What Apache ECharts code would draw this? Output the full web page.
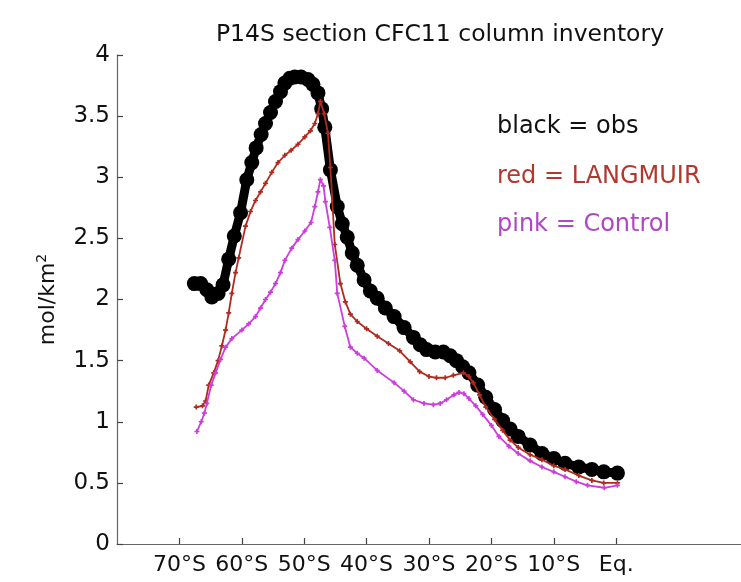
<!DOCTYPE html>
<html>
<head>
<meta charset="utf-8">
<script src="https://cdn.jsdelivr.net/npm/echarts@6/dist/echarts.min.js"></script>
<style>html,body{margin:0;padding:0;background:#fff;}#c{width:741px;height:582px;}</style>
</head>
<body>
<div id="c"></div>
<script>
const titleText = 'P14S section CFC11 column inventory';
const xTickValues = [-70, -60, -50, -40, -30, -20, -10, 0];
const yTickValues = [0, 0.5, 1, 1.5, 2, 2.5, 3, 3.5, 4];

const obsLat = [-67.6,-66.6,-65.6,-64.8,-63.8,-63.0,-62.1,-61.2,-60.2,-59.2,-58.4,-57.7,-56.9,-56.2,-55.4,-54.6,-53.8,-53.1,-52.3,-51.5,-50.5,-49.4,-48.6,-47.8,-47.2,-46.7,-45.8,-44.7,-43.9,-43.1,-42.3,-41.5,-40.4,-39.4,-38.3,-37.0,-35.6,-34.0,-32.5,-31.4,-30.4,-29.0,-27.7,-26.6,-25.6,-24.6,-23.6,-22.2,-20.9,-19.5,-18.2,-17.0,-15.7,-13.8,-11.9,-10.0,-8.2,-6.0,-3.9,-2.0,0.2];
const obsVal = [2.13,2.13,2.08,2.02,2.05,2.12,2.33,2.52,2.71,2.98,3.12,3.24,3.35,3.44,3.53,3.62,3.70,3.77,3.81,3.82,3.82,3.80,3.76,3.69,3.56,3.41,3.06,2.76,2.62,2.51,2.38,2.28,2.16,2.07,2.01,1.93,1.86,1.77,1.69,1.63,1.59,1.57,1.57,1.54,1.50,1.45,1.40,1.30,1.20,1.10,1.01,0.94,0.88,0.81,0.74,0.70,0.66,0.63,0.61,0.59,0.58];

const langLat = [-67.3,-66.3,-65.8,-65.3,-64.5,-63.8,-63.2,-62.6,-62.1,-61.6,-61.0,-60.5,-59.4,-58.6,-57.8,-57.0,-56.2,-55.2,-54.2,-53.1,-52.1,-51.0,-49.9,-49.0,-48.3,-47.8,-47.4,-46.8,-46.2,-45.8,-45.1,-44.2,-43.4,-42.6,-41.5,-40.0,-38.3,-36.5,-34.7,-33.0,-31.5,-30.0,-28.8,-27.4,-26.1,-24.5,-23.6,-22.9,-21.9,-20.9,-19.5,-18.2,-17.0,-15.7,-13.8,-11.9,-10.0,-8.2,-6.0,-3.9,-2.0,0.2];
const langVal = [1.12,1.13,1.17,1.30,1.40,1.50,1.62,1.75,1.89,2.05,2.22,2.34,2.60,2.72,2.81,2.88,2.95,3.04,3.12,3.18,3.22,3.27,3.33,3.38,3.44,3.52,3.62,3.52,3.36,3.08,2.45,2.13,1.98,1.88,1.82,1.76,1.70,1.64,1.58,1.49,1.41,1.37,1.36,1.36,1.38,1.40,1.37,1.32,1.22,1.12,1.02,0.93,0.85,0.79,0.73,0.69,0.64,0.61,0.56,0.52,0.50,0.50];

const ctrlLat = [-67.2,-66.5,-66.0,-65.6,-64.9,-64.2,-63.4,-62.6,-61.6,-60.0,-58.9,-57.8,-57.0,-56.2,-55.4,-54.6,-53.8,-53.1,-52.0,-51.0,-49.9,-48.9,-48.3,-47.8,-47.4,-46.9,-46.6,-45.9,-45.1,-44.7,-43.5,-42.6,-41.5,-40.4,-38.3,-35.6,-34.0,-32.5,-30.8,-29.3,-28.2,-27.2,-26.0,-25.2,-24.4,-23.6,-22.5,-21.4,-20.0,-18.8,-17.2,-15.7,-13.8,-11.9,-10.0,-8.2,-6.4,-4.6,-1.9,0.2];
const ctrlVal = [0.92,1.00,1.07,1.15,1.30,1.40,1.51,1.61,1.68,1.75,1.80,1.86,1.93,2.00,2.06,2.13,2.22,2.32,2.42,2.49,2.56,2.63,2.76,2.88,2.98,2.93,2.80,2.59,2.32,2.05,1.78,1.61,1.56,1.52,1.42,1.32,1.25,1.18,1.15,1.14,1.15,1.18,1.22,1.24,1.23,1.19,1.13,1.06,0.97,0.88,0.80,0.74,0.68,0.63,0.59,0.55,0.51,0.48,0.46,0.48];

const annotations = ['black = obs', 'red = LANGMUIR', 'pink = Control'];
const annotationColors = ['#111111', '#b2382e', '#b046c6'];

function pairs(a, b) { return a.map((v, i) => [v, b[i]]); }

const FONT = '"DejaVu Sans", "Liberation Sans", Arial, sans-serif';
const plus = 'path://M-1,-3H1V-1H3V1H1V3H-1V1H-3V-1H-1Z';
const chart = echarts.init(document.getElementById('c'), null, {renderer: 'canvas'});
chart.setOption({
  backgroundColor: '#fff',
  animation: false,
  title: {
    text: titleText, left: 435, top: 18, textAlign: 'center',
    textStyle: {fontFamily: FONT, fontSize: 23.5, fontWeight: 'normal', color: '#111'}
  },
  grid: {left: 117, right: -8, top: 55, bottom: 38, containLabel: false},
  xAxis: {
    type: 'value', min: -80, max: 20,
    axisLine: {show: true, onZero: false, lineStyle: {color: '#666', width: 1.2}},
    axisTick: {show: true, inside: true, length: 6, customValues: xTickValues, lineStyle: {color: '#444', width: 1.2}},
    axisLabel: {
      customValues: xTickValues, margin: 10, color: '#111', fontFamily: FONT, fontSize: 22,
      formatter: v => v < 0 ? (-v) + '°S' : 'Eq.'
    },
    splitLine: {show: false}
  },
  yAxis: {
    type: 'value', min: 0, max: 4, interval: 0.5,
    name: 'mol/km{s|2}', nameLocation: 'middle', nameGap: 56, nameRotate: 90,
    nameTextStyle: {fontFamily: FONT, fontSize: 22, color: '#111', rich: {s: {fontFamily: FONT, fontSize: 14, verticalAlign: 'top', padding: [0,0,12,0], color: '#111'}}},
    axisLine: {show: true, onZero: false, lineStyle: {color: '#666', width: 1.2}},
    axisTick: {show: true, inside: true, length: 6, lineStyle: {color: '#444', width: 1.2}},
    axisLabel: {margin: 7, color: '#111', fontFamily: FONT, fontSize: 23},
    splitLine: {show: false}
  },
  graphic: annotations.map((t, i) => ({
    type: 'text', x: 497, y: [127, 177, 225][i],
    style: {text: t, fontFamily: FONT, fontSize: 24, fill: annotationColors[i], textVerticalAlign: 'middle', verticalAlign: 'middle'}
  })),
  series: [
    {type: 'line', data: pairs(obsLat, obsVal), symbol: 'circle', symbolSize: 15,
     itemStyle: {color: '#000'}, lineStyle: {color: '#000', width: 9}, z: 2},
    {type: 'line', data: pairs(langLat, langVal), symbol: plus, symbolSize: 5,
     itemStyle: {color: '#b02a1e'}, lineStyle: {color: '#b02a1e', width: 1.8}, z: 3},
    {type: 'line', data: pairs(ctrlLat, ctrlVal), symbol: plus, symbolSize: 5,
     itemStyle: {color: '#cc3ddc'}, lineStyle: {color: '#cc3ddc', width: 1.8}, z: 4}
  ]
});
</script>
</body>
</html>
